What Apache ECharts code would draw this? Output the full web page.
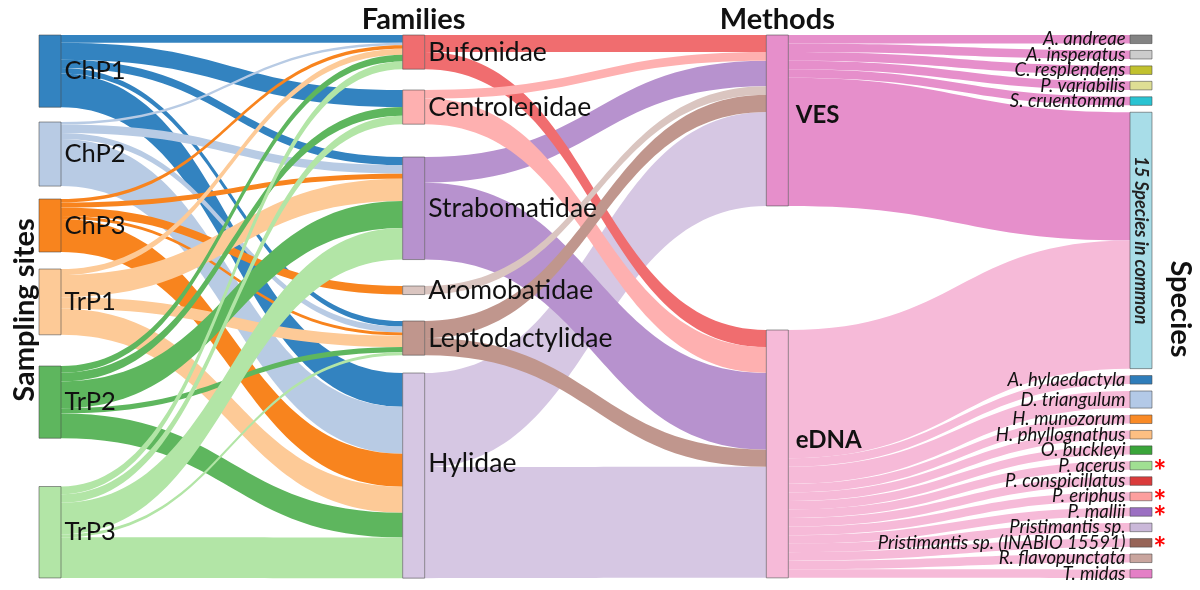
<!DOCTYPE html>
<html>
<head>
<meta charset="utf-8">
<title>Sampling sites - Families - Methods - Species</title>
<script src="https://cdn.jsdelivr.net/npm/echarts@6/dist/echarts.min.js"></script>
<style>
  html, body { margin: 0; padding: 0; background: #fff; }
  #chart { width: 1200px; height: 590px; }
</style>
</head>
<body>
<div id="chart"></div>
<script>
// ---- data ----
var sites = ['ChP1', 'ChP2', 'ChP3', 'TrP1', 'TrP2', 'TrP3']
var families = ['Bufonidae', 'Centrolenidae', 'Strabomatidae', 'Aromobatidae', 'Leptodactylidae', 'Hylidae']
var methods = ['VES', 'eDNA']
// rows: sites, columns: families
var siteFamily = [
  [0.9, 2.0, 0.95, 0, 0.65, 3.95],
  [0.3, 0, 1.0, 0, 0.7, 5.5],
  [0.4, 0, 0.6, 1, 0.35, 3.85],
  [0.7, 0, 2.6, 0, 1.35, 3.05],
  [0.8, 1.0, 3.15, 0, 0.6, 2.9],
  [0.9, 1.0, 3.7, 0, 0.35, 4.75]
]
// rows: families, columns: VES, eDNA
var familyMethod = [
  [2, 2],
  [1, 3],
  [3, 9],
  [1, 0],
  [2, 2],
  [11, 13]
]
var vesSpecies = ['A. andreae', 'A. insperatus', 'C. resplendens', 'P. variabilis', 'S. cruentomma']
var commonSpecies = '15 Species in common'
var commonCount = 15
var ednaSpecies = ['A. hylaedactyla', 'D. triangulum', 'H. munozorum', 'H. phyllognathus', 'O. buckleyi',
  'P. acerus', 'P. conspicillatus', 'P. eriphus', 'P. mallii', 'Pristimantis sp.',
  'Pristimantis sp. (INABIO 15591)', 'R. flavopunctata', 'T. midas']
var ednaCounts = [1, 2, 1, 1, 1, 1, 1, 1, 1, 1, 1, 1, 1]
var starred = ['P. acerus', 'P. eriphus', 'P. mallii', 'Pristimantis sp. (INABIO 15591)']

// ---- styles ----
var siteColors = ['#3383c0', '#b8cbe4', '#f8841e', '#fdca97', '#5eb65e', '#b2e5a6']
var familyColors = ['#f06d6f', '#feb0b0', '#b792ce', '#dac5c0', '#c0968d', '#d6c7e3']
var methodColors = ['#e68fcb', '#f6bad8']
var vesColors = ['#838383', '#cccccc', '#c1c12e', '#dede94', '#29c3d2']
var commonColor = '#a8dde8'
var ednaColors = ['#2f7dba', '#b3c9e7', '#f98a26', '#fdbf82', '#3aa53a', '#a0e092', '#da3b3b',
  '#fd9f9e', '#9b6fc2', '#cab8d9', '#976457', '#c9a59e', '#e47fc6']
var font = 'Lato'

// ---- layout ----
var plot = { left: 39, top: 35, width: 1113, height: 543 }
var nodeWidth = 22
var siteTop = [0, 87, 164, 234, 331, 451.5]
var familyTop = [0, 55, 122, 251, 286, 338]
var methodTop = [0, 295]
// families drawn bottom to top
var familyDrawOrder = [5, 2, 0, 1, 3, 4]

var border = { borderColor: 'rgba(70,70,70,0.55)', borderWidth: 1 }

function node (name, color, top, label) {
  var n = { name: name, itemStyle: Object.assign({ color: color }, border) }
  if (top != null) n.localY = top / plot.height
  if (label) n.label = label
  return n
}

function speciesLabel (name) {
  var star = starred.indexOf(name) >= 0 ? '*' : ' '
  return {
    position: 'left',
    distance: -37,
    formatter: function () {
      return '{nm|' + name + '}{sp| }{ast|' + star + '}'
    },
    rich: {
      nm: { fontFamily: font, fontStyle: 'italic', fontSize: 18.5, color: '#111', align: 'right', verticalAlign: 'middle' },
      sp: { width: 27, fontSize: 18, align: 'right', verticalAlign: 'middle' },
      ast: { width: 14, fontFamily: font, fontSize: 31, fontWeight: 'bold', color: '#ff0000', align: 'right', verticalAlign: 'middle', padding: [12, 0, 0, 0] }
    }
  }
}

var nodes = []
var links = []
sites.forEach(function (s, i) { nodes.push(node(s, siteColors[i], siteTop[i])) })
families.forEach(function (f, i) {
  var lab = { fontSize: 26.5 }
  if (f === 'Hylidae') lab.offset = [0, -12]
  nodes.push(node(f, familyColors[i], familyTop[i], lab))
})
methods.forEach(function (m, i) {
  nodes.push(node(m, methodColors[i], methodTop[i], {
    fontWeight: 'bold', fontSize: 24, distance: 7, offset: [0, i === 0 ? -5 : -14]
  }))
})
vesSpecies.forEach(function (s, i) { nodes.push(node(s, vesColors[i], null, speciesLabel(s))) })
nodes.push(node(commonSpecies, commonColor, null, {
  position: 'inside', rotate: -90, fontStyle: 'italic', fontWeight: 'bold', fontSize: 18, color: '#222'
}))
ednaSpecies.forEach(function (s, i) { nodes.push(node(s, ednaColors[i], null, speciesLabel(s))) })

siteFamily.forEach(function (row, i) {
  row.forEach(function (v, j) {
    if (v > 0) links.push({ source: sites[i], target: families[j], value: v })
  })
})
familyDrawOrder.forEach(function (i) {
  familyMethod[i].forEach(function (v, j) {
    if (v > 0) links.push({ source: families[i], target: methods[j], value: v })
  })
})
vesSpecies.forEach(function (s) { links.push({ source: 'VES', target: s, value: 1 }) })
links.push({ source: 'VES', target: commonSpecies, value: commonCount })
links.push({ source: 'eDNA', target: commonSpecies, value: commonCount })
ednaSpecies.forEach(function (s, i) { links.push({ source: 'eDNA', target: s, value: ednaCounts[i] }) })

// column centres for the headings
var colStep = (plot.width - nodeWidth) / 3
function colCenter (k) { return plot.left + k * colStep + nodeWidth / 2 }

function heading (text, x, y, rotation) {
  return {
    type: 'text',
    x: x,
    y: y,
    rotation: rotation || 0,
    style: {
      text: text,
      font: 'bold 29px ' + font,
      fill: '#111',
      align: 'center',
      verticalAlign: 'middle',
      textAlign: 'center',
      textVerticalAlign: 'middle'
    }
  }
}

var chart = echarts.init(document.getElementById('chart'))
var option = {
  animation: false,
  backgroundColor: '#fff',
  graphic: [
    heading('Families', colCenter(1), 20),
    heading('Methods', colCenter(2), 20),
    heading('Sampling sites', 25, 310, Math.PI / 2),
    heading('Species', 1180, 309, -Math.PI / 2)
  ],
  series: [{
    type: 'sankey',
    left: plot.left,
    top: plot.top,
    width: plot.width,
    height: plot.height,
    nodeWidth: nodeWidth,
    nodeGap: 6.9,
    layoutIterations: 0,
    draggable: false,
    emphasis: { disabled: true },
    label: {
      show: true,
      position: 'right',
      distance: 3,
      fontFamily: font,
      fontSize: 25.5,
      color: '#111'
    },
    lineStyle: { color: 'source', opacity: 1, curveness: 0.5 },
    data: nodes,
    links: links
  }]
}
chart.setOption(option)
window.addEventListener('resize', function () { chart.resize() })
</script>
</body>
</html>
